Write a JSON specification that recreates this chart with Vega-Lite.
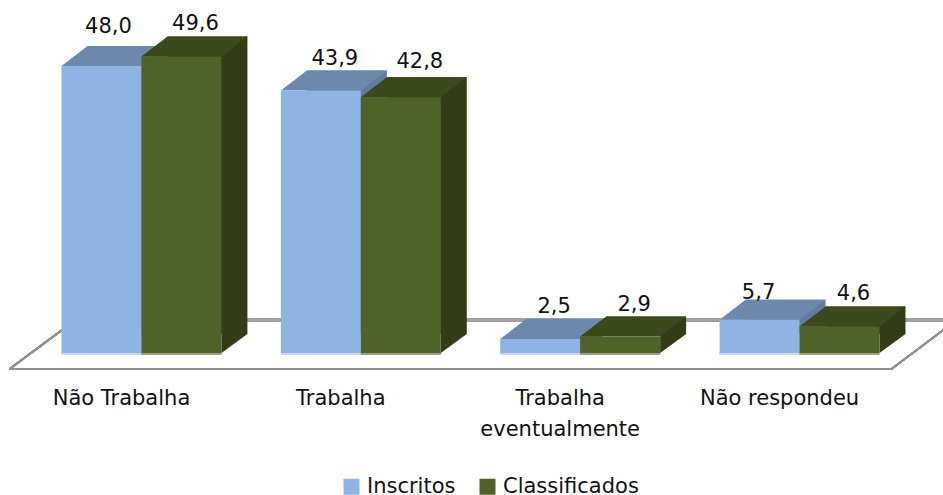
{
"$schema":"https://vega.github.io/schema/vega-lite/v6.json",
"width":943,"height":354,
"autosize":{"type":"none"},
"padding":{"left":0,"top":0,"right":0,"bottom":141},
"background":"white",
"config":{"view":{"stroke":null},"font":"DejaVu Sans"},
"data":{"values":[
{"categoria":"Não Trabalha","serie":"Inscritos","valor":48.0,"rotulo":"48,0"},
{"categoria":"Trabalha","serie":"Inscritos","valor":43.9,"rotulo":"43,9"},
{"categoria":"Trabalha eventualmente","serie":"Inscritos","valor":2.5,"rotulo":"2,5"},
{"categoria":"Não respondeu","serie":"Inscritos","valor":5.7,"rotulo":"5,7"},
{"categoria":"Não Trabalha","serie":"Classificados","valor":49.6,"rotulo":"49,6"},
{"categoria":"Trabalha","serie":"Classificados","valor":42.8,"rotulo":"42,8"},
{"categoria":"Trabalha eventualmente","serie":"Classificados","valor":2.9,"rotulo":"2,9"},
{"categoria":"Não respondeu","serie":"Classificados","valor":4.6,"rotulo":"4,6"}
]},
"resolve":{"scale":{"x":"independent","xOffset":"independent"},"axis":{"x":"independent"}},
"encoding":{
"xOffset":{"field":"serie","type":"nominal","scale":{"domain":["Inscritos","Classificados"],"paddingInner":0,"paddingOuter":0}},
"y":{"field":"valor","type":"quantitative","title":null,"scale":{"domain":[0,59],"nice":false},"axis":null}
},
"layer":[
{
"encoding":{"x":{"field":"categoria","type":"nominal","title":null,"axis":null,
 "scale":{"domain":["Não Trabalha","Trabalha","Trabalha eventualmente","Não respondeu"],"paddingInner":0.271,"paddingOuter":0.285,"range":[25,968]}}},
"layer":[
{"mark":{"type":"point","shape":"M-52,15 L830,15 L887,-28 M-52,15 L14,-34","size":4,"filled":false,"stroke":"#8f8f8f","strokeWidth":1.6,"opacity":1},
 "encoding":{"x":{"datum":"Não Trabalha"},"xOffset":{"value":-26},"y":{"datum":0}}},
{"mark":{"type":"point","shape":"M14,-34 L891,-34","size":4,"filled":false,"stroke":"#a0a0a0","strokeWidth":3,"opacity":1},
 "encoding":{"x":{"datum":"Não Trabalha"},"xOffset":{"value":-26},"y":{"datum":0}}},
{"mark":{"type":"bar","yOffset":-20,"y2Offset":-20},
 "encoding":{"y2":{"datum":0},"fill":{"condition":{"test":"datum.serie == 'Inscritos'","value":"#5f7d9f"},"value":"#323d17"}}}
]},
{
"encoding":{"x":{"field":"categoria","type":"nominal","title":null,
 "scale":{"domain":["Não Trabalha","Trabalha","Trabalha eventualmente","Não respondeu"],"paddingInner":0.271,"paddingOuter":0.285,"range":[-1,942]},
 "axis":{"domain":false,"ticks":false,"grid":false,"labelAngle":0,"labelPadding":33,"labelOffset":-20,"labelFontSize":21,"labelColor":"#111111","labelFont":"DejaVu Sans","labelLimit":0,"labelLineHeight":31,"labelExpr":"datum.label == 'Trabalha eventualmente' ? ['Trabalha','eventualmente'] : datum.label"}}},
"layer":[
{"mark":{"type":"point","shape":"M40,-20 L66,-20 L40,-1 Z","size":4,"filled":true,"opacity":1},
 "encoding":{"y":{"datum":0},"fill":{"condition":{"test":"datum.serie == 'Inscritos'","value":"#5f7d9f"},"value":"#323d17"}}},
{"mark":{"type":"point","shape":"M-40,0 L40,0 L66,-20 L-14,-20 Z","size":4,"filled":true,"opacity":1},
 "encoding":{"fill":{"condition":{"test":"datum.serie == 'Inscritos'","value":"#6c89ad"},"value":"#3c491c"}}},
{"mark":{"type":"bar"},
 "encoding":{"y2":{"datum":0},"color":{"field":"serie","type":"nominal","title":null,
   "scale":{"domain":["Inscritos","Classificados"],"range":["#8db4e2","#4f6228"]},
   "legend":{"orient":"none","legendX":341,"legendY":476,"direction":"horizontal","columns":2,"symbolType":"square","symbolSize":256,"symbolStrokeWidth":0,"labelFontSize":21,"labelColor":"#111111","labelFont":"DejaVu Sans","columnPadding":21,"labelOffset":5,"labelLimit":0,"padding":0}}}},
{"mark":{"type":"point","shape":"M-40,-1 L40,-1 L40,1 L-40,1 Z","size":4,"filled":true,"opacity":1},
 "encoding":{"y":{"datum":0},"fill":{"condition":{"test":"datum.serie == 'Inscritos'","value":"#c6d9f1"},"value":"#9ca184"}}},
{"transform":[{"filter":"datum.rotulo != '48,0' && datum.rotulo != '5,7' && datum.rotulo != '42,8'"}],
 "mark":{"type":"text","fontSize":21,"dx":14,"dy":-32,"color":"#111111","font":"DejaVu Sans"},
 "encoding":{"text":{"field":"rotulo"}}},
{"transform":[{"filter":"datum.rotulo == '48,0'"}],
 "mark":{"type":"text","fontSize":21,"dx":7,"dy":-39,"color":"#111111","font":"DejaVu Sans"},
 "encoding":{"text":{"field":"rotulo"}}},
{"transform":[{"filter":"datum.rotulo == '5,7'"}],
 "mark":{"type":"text","fontSize":21,"dx":-1,"dy":-27,"color":"#111111","font":"DejaVu Sans"},
 "encoding":{"text":{"field":"rotulo"}}},
{"transform":[{"filter":"datum.rotulo == '42,8'"}],
 "mark":{"type":"text","fontSize":21,"dx":19,"dy":-35,"color":"#111111","font":"DejaVu Sans"},
 "encoding":{"text":{"field":"rotulo"}}}
]}
]
}
